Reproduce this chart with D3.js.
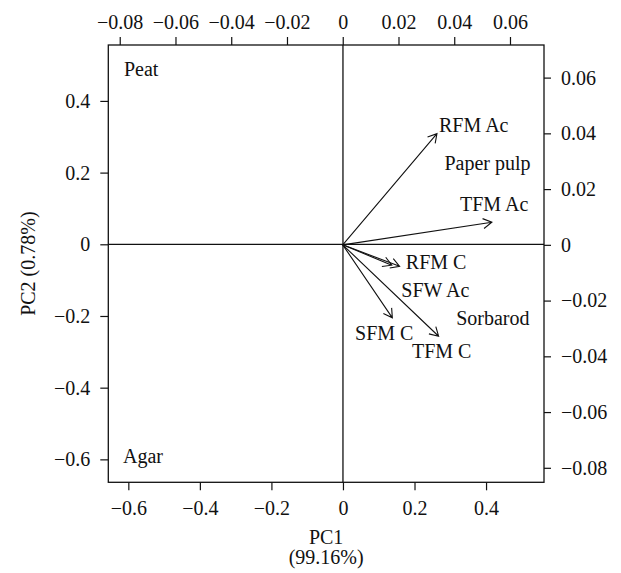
<!DOCTYPE html>
<html>
<head>
<meta charset="utf-8">
<script src="https://cdn.jsdelivr.net/npm/d3@7"></script>
<style>
  body { margin: 0; background: #fff; }
  svg text { font-family: "Liberation Serif", "Times New Roman", serif; fill: #111; }
</style>
</head>
<body>
<svg id="canvas"></svg>
<script>
//--samples (scores, bottom/left axes)
let sampleNames = ["Peat", "Paper pulp", "Sorbarod", "Agar"];
let pc1Scores = [-0.564, 0.404, 0.419, -0.559];
let pc2Scores = [0.489, 0.227, -0.206, -0.591];

//--variables (loadings, top/right axes)
let varNames = ["RFM Ac", "TFM Ac", "RFM C", "SFW Ac", "SFM C", "TFM C"];
let loadX = [0.0338, 0.0535, 0.0204, 0.0176, 0.0178, 0.0344];
let loadY = [0.0399, 0.0081, -0.0077, -0.0073, -0.0262, -0.0328];
let labelX = [0.047, 0.0543, 0.0335, 0.0332, 0.0149, 0.0355];
let labelY = [0.0431, 0.0148, -0.0062, -0.0161, -0.0318, -0.0381];

//--ticks
let scoreTicks = [-0.6, -0.4, -0.2, 0, 0.2, 0.4];
let loadTicks = [-0.08, -0.06, -0.04, -0.02, 0, 0.02, 0.04, 0.06];

let width = 621;
let height = 573;
let plotLeft = 108.3, plotRight = 544, plotTop = 45, plotBottom = 482.3;
let fontSize = 20;

let canvas = d3.select("#canvas").attr("width", width).attr("height", height);

let xScore = d3.scaleLinear().domain([-0.656, 0.562]).range([plotLeft, plotRight]);
let yScore = d3.scaleLinear().domain([-0.664, 0.556]).range([plotBottom, plotTop]);
let xLoad = d3.scaleLinear().domain([-0.0841, 0.0722]).range([plotLeft, plotRight]);
let yLoad = d3.scaleLinear().domain([-0.0852, 0.0717]).range([plotBottom, plotTop]);

let fmt = d => d === 0 ? "0" : String(d).replace("-", "\u2212");

let styleAxis = g => {
    g.select(".domain").remove();
    g.selectAll("line").attr("stroke", "#111").attr("stroke-width", 1.2);
    g.selectAll("text").attr("font-size", fontSize).attr("font-family", null);
};

canvas.append("g").attr("transform", "translate(0," + plotBottom + ")")
    .call(d3.axisBottom(xScore).tickValues(scoreTicks).tickFormat(fmt).tickSize(8).tickPadding(11))
    .call(styleAxis);
canvas.append("g").attr("transform", "translate(" + plotLeft + ",0)")
    .call(d3.axisLeft(yScore).tickValues(scoreTicks).tickFormat(fmt).tickSize(8).tickPadding(10))
    .call(styleAxis);
canvas.append("g").attr("transform", "translate(0," + plotTop + ")")
    .call(d3.axisTop(xLoad).tickValues(loadTicks).tickFormat(fmt).tickSize(8).tickPadding(8))
    .call(styleAxis);
canvas.append("g").attr("transform", "translate(" + plotRight + ",0)")
    .call(d3.axisRight(yLoad).tickValues(loadTicks).tickFormat(fmt).tickSize(7).tickPadding(10))
    .call(styleAxis);

//--box and zero lines
canvas.append("rect")
    .attr("x", plotLeft).attr("y", plotTop)
    .attr("width", plotRight - plotLeft).attr("height", plotBottom - plotTop)
    .attr("fill", "none").attr("stroke", "#111").attr("stroke-width", 1.3);
canvas.append("line")
    .attr("x1", plotLeft).attr("x2", plotRight)
    .attr("y1", yScore(0)).attr("y2", yScore(0))
    .attr("stroke", "#111").attr("stroke-width", 1.3);
canvas.append("line")
    .attr("x1", xScore(0)).attr("x2", xScore(0))
    .attr("y1", plotTop).attr("y2", plotBottom)
    .attr("stroke", "#111").attr("stroke-width", 1.3);

//--sample labels
canvas.selectAll(".sample")
    .data(sampleNames)
    .enter()
    .append("text")
    .attr("class", "sample")
    .attr("x", (d, i) => xScore(pc1Scores[i]))
    .attr("y", (d, i) => yScore(pc2Scores[i]))
    .attr("text-anchor", "middle")
    .attr("dominant-baseline", "central")
    .attr("font-size", fontSize)
    .text(d => d);

//--arrows
let ox = xLoad(0), oy = yLoad(0);
let headLen = 10, headAng = Math.PI / 6;
canvas.selectAll(".arrow")
    .data(varNames)
    .enter()
    .append("path")
    .attr("class", "arrow")
    .attr("fill", "none")
    .attr("stroke", "#111")
    .attr("stroke-width", 1.1)
    .attr("d", (d, i) => {
        let tx = xLoad(loadX[i]), ty = yLoad(loadY[i]);
        let a = Math.atan2(ty - oy, tx - ox);
        let p = d3.path();
        p.moveTo(ox, oy);
        p.lineTo(tx, ty);
        p.moveTo(tx - headLen * Math.cos(a - headAng), ty - headLen * Math.sin(a - headAng));
        p.lineTo(tx, ty);
        p.lineTo(tx - headLen * Math.cos(a + headAng), ty - headLen * Math.sin(a + headAng));
        return p.toString();
    });

canvas.selectAll(".varlab")
    .data(varNames)
    .enter()
    .append("text")
    .attr("class", "varlab")
    .attr("x", (d, i) => xLoad(labelX[i]))
    .attr("y", (d, i) => yLoad(labelY[i]))
    .attr("text-anchor", "middle")
    .attr("dominant-baseline", "central")
    .attr("font-size", fontSize)
    .text(d => d);

//--axis titles
canvas.append("text")
    .attr("x", (plotLeft + plotRight) / 2).attr("y", 537)
    .attr("text-anchor", "middle").attr("dominant-baseline", "central")
    .attr("font-size", fontSize)
    .text("PC1");
canvas.append("text")
    .attr("x", (plotLeft + plotRight) / 2).attr("y", 557)
    .attr("text-anchor", "middle").attr("dominant-baseline", "central")
    .attr("font-size", fontSize)
    .text("(99.16%)");
canvas.append("text")
    .attr("transform", "translate(28," + (plotTop + plotBottom) / 2 + ") rotate(-90)")
    .attr("text-anchor", "middle").attr("dominant-baseline", "central")
    .attr("font-size", fontSize)
    .text("PC2 (0.78%)");
</script>
</body>
</html>
